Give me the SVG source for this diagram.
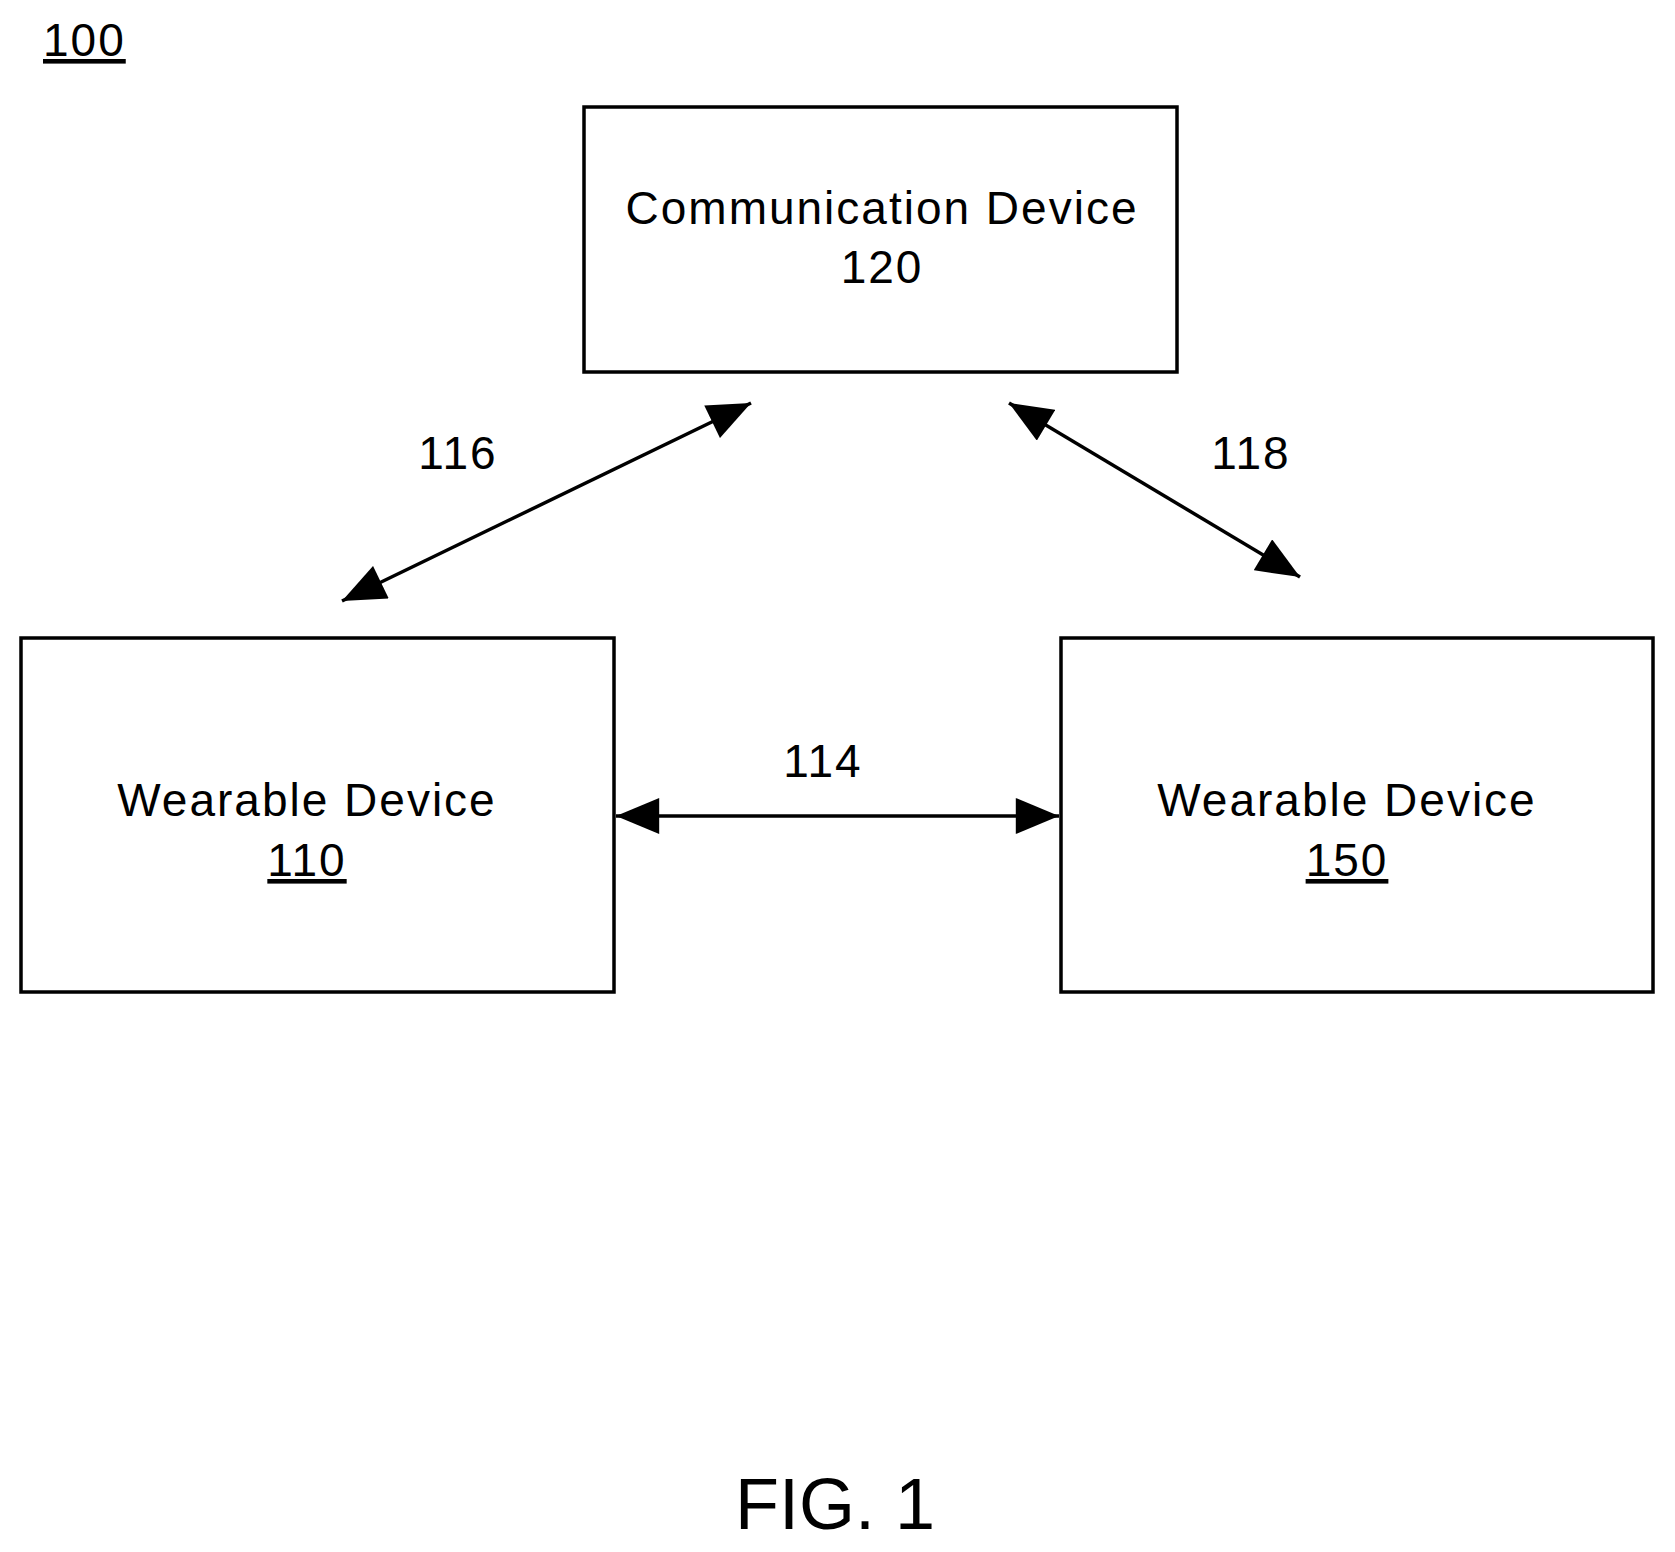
<svg xmlns="http://www.w3.org/2000/svg" width="1675" height="1552" viewBox="0 0 1675 1552">
<style>
.box{fill:#fff;stroke:#000;stroke-width:3.5}
.t{font-family:"Liberation Sans",Arial,sans-serif;font-size:46px;fill:#000;text-anchor:middle;letter-spacing:2px}
.c{stroke:#000;stroke-width:3.5;fill:none;marker-start:url(#a);marker-end:url(#a)}
</style>
<defs>
<marker id="a" viewBox="0 0 12 10" refX="12" refY="5" markerUnits="userSpaceOnUse" markerWidth="44" markerHeight="36" orient="auto-start-reverse">
<path d="M0,0 L12,5 L0,10 Z" fill="#000"/>
</marker>
</defs>
<rect width="1675" height="1552" fill="#fff"/>
<text x="43" y="56" class="t" style="text-anchor:start" text-decoration="underline">100</text>
<g id="n120">
<rect class="box" x="584" y="107" width="593" height="265"/>
<text x="882" y="224" class="t">Communication Device</text>
<text x="882" y="283" class="t">120</text>
</g>
<g id="n110">
<rect class="box" x="21" y="638" width="593" height="354"/>
<text x="307" y="816" class="t">Wearable Device</text>
<text x="307" y="876" class="t" text-decoration="underline">110</text>
</g>
<g id="n150">
<rect class="box" x="1061" y="638" width="592" height="354"/>
<text x="1347" y="816" class="t">Wearable Device</text>
<text x="1347" y="876" class="t" text-decoration="underline">150</text>
</g>
<g id="connectors">
<line class="c" x1="342" y1="601" x2="751" y2="403"/>
<line class="c" x1="1009" y1="403" x2="1300" y2="577"/>
<line class="c" x1="616" y1="816" x2="1059" y2="816"/>
<text x="458" y="469" class="t">116</text>
<text x="1251" y="469" class="t">118</text>
<text x="823" y="777" class="t">114</text>
</g>
<text x="835" y="1529" class="t" style="font-size:72px;letter-spacing:0">FIG. 1</text>
</svg>
